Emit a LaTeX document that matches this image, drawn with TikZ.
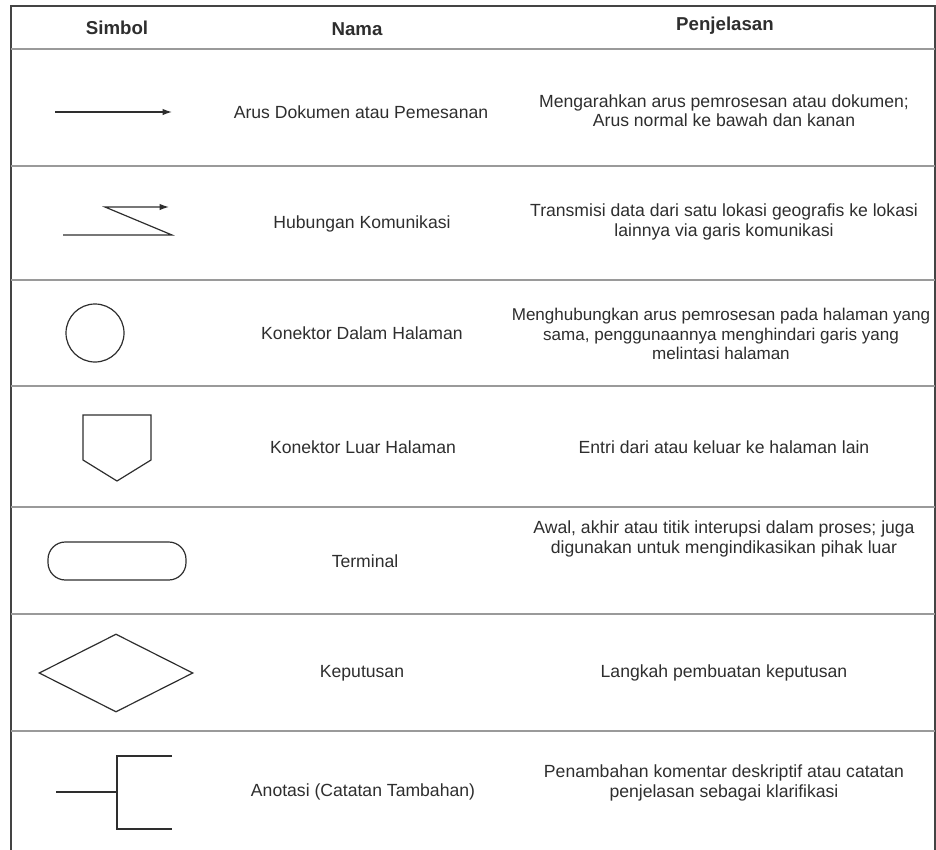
\documentclass[tikz,border=0pt]{standalone}
\usepackage{fontspec}
\setmainfont{Liberation Sans}
\usetikzlibrary{arrows.meta,shapes.geometric}

\definecolor{ink}{HTML}{2E2E2E}
\definecolor{rulegray}{HTML}{9A9A9A}
\definecolor{framegray}{HTML}{444444}

\tikzset{
  headtext/.style={text=ink,inner sep=0.75pt,font=\fontsize{14}{16}\selectfont\bfseries},
  celltext/.style={text=ink,inner sep=0.75pt,align=center,font=\fontsize{13.2}{14.4}\selectfont},
  symline/.style={draw=ink,line width=0.9pt},
  symtip/.style={-{Latex[length=7pt,width=4.8pt]}},
}

\begin{document}
\begin{tikzpicture}[x=0.75pt,y=0.75pt,yscale=-1,xscale=1]
\useasboundingbox (0,0) rectangle (936,850);

% Table frame
\draw [draw=framegray,line width=1pt] (11,850) -- (11,6) -- (935,6) -- (935,850);

% Row rules
\foreach \ry in {49,166,280,386,507,614,731}
  \draw [draw=rulegray,line width=1.1pt] (11,\ry) -- (935,\ry);

% Header Text Nodes
\node (hdSimbol) [headtext] at (117,28) {Simbol};
\node (hdNama) [headtext] at (357,29) {Nama};
\node (hdJelas) [headtext] at (725,26) {Penjelasan};

% Symbols
% arus dokumen
\coordinate (arusA) at (55,112);
\coordinate (arusB) at (172,112);
\draw [symline,symtip] (arusA) -- (arusB);

% hubungan komunikasi
\coordinate (komA) at (63,235);
\coordinate (komB) at (172,235);
\coordinate (komC) at (105,207);
\coordinate (komD) at (169,207);
\draw [symline,symtip] (komA) -- (komB) -- (komC) -- (komD);

% konektor dalam halaman
\node (konDalam) [symline,circle,minimum size=58*0.75pt,inner sep=0pt] at (95,333) {};

% konektor luar halaman
\draw [symline,line join=miter] (83,415) -- (151,415) -- (151,460) -- (117,481) -- (83,460) -- cycle;

% terminal
\node (terminal) [symline,rectangle,rounded corners=13pt,minimum width=138*0.75pt,minimum height=38*0.75pt,inner sep=0pt] at (117,561) {};

% keputusan
\node (keputusan) [symline,diamond,minimum width=154*0.75pt,minimum height=78*0.75pt,inner sep=0pt,shape aspect=2] at (116,673) {};

% anotasi
\coordinate (anoStub) at (56,792);
\coordinate (anoMid) at (117,792);
\coordinate (anoTop) at (172,756);
\coordinate (anoBot) at (172,829);
\draw [symline] (anoStub) -- (anoMid);
\draw [symline] (anoTop) -- (anoTop -| anoMid) -- (anoBot -| anoMid) -- (anoBot);

% Text Nodes: Nama
\node (nmArus) [celltext] at (361,112) {Arus Dokumen atau Pemesanan};
\node (nmKom) [celltext] at (362,224) {Hubungan Komunikasi};
\node (nmDalam) [celltext] at (362,333) {Konektor Dalam Halaman};
\node (nmLuar) [celltext] at (363,447) {Konektor Luar Halaman};
\node (nmTerm) [celltext] at (365,561) {Terminal};
\node (nmKep) [celltext] at (362,673) {Keputusan};
\node (nmAno) [celltext] at (363,792) {Anotasi (Catatan Tambahan)};

% Text Nodes: Penjelasan
\node (jsArus) [celltext] at (724,111) {Mengarahkan arus pemrosesan atau dokumen;\\Arus normal ke bawah dan kanan};
\node (jsKom) [celltext] at (724,222) {Transmisi data dari satu lokasi geografis ke lokasi\\lainnya via garis komunikasi};
\node (jsDalam) [celltext,font=\fontsize{12.8}{14.4}\selectfont] at (721,334) {Menghubungkan arus pemrosesan pada halaman yang\\sama, penggunaannya menghindari garis yang\\melintasi halaman};
\node (jsLuar) [celltext] at (724,447) {Entri dari atau keluar ke halaman lain};
\node (jsTerm) [celltext] at (724,539) {Awal, akhir atau titik interupsi dalam proses; juga\\digunakan untuk mengindikasikan pihak luar};
\node (jsKep) [celltext] at (724,673) {Langkah pembuatan keputusan};
\node (jsAno) [celltext] at (724,783) {Penambahan komentar deskriptif atau catatan\\penjelasan sebagai klarifikasi};

\end{tikzpicture}
\end{document}
